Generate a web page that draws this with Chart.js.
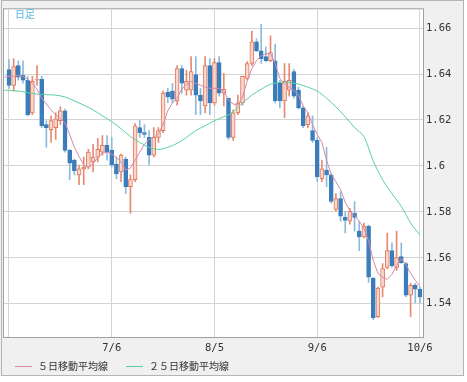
<!DOCTYPE html>
<html>
<head>
<meta charset="utf-8">
<script src="https://cdn.jsdelivr.net/npm/chart.js@4.4.0/dist/chart.umd.min.js"></script>
<style>
  html, body { margin: 0; padding: 0; background: #fff; }
</style>
</head>
<body>
<canvas id="myChart" width="467" height="382"></canvas>
<script>
// 営業日（6/3 は移動平均線の始点だけ、ローソク足なし）
const dates = [];
for (let d = new Date(2011, 5, 3); d <= new Date(2011, 9, 6); d.setDate(d.getDate() + 1)) {
    const wd = d.getDay();
    if (wd !== 0 && wd !== 6) dates.push((d.getMonth() + 1) + '/' + d.getDate());
}

const openV = [null,
    1.6420, 1.6351, 1.6437, 1.6394, 1.6373, 1.6231, 1.6373, 1.6377, 1.6180, 1.6158,
    1.6167, 1.6197, 1.6240, 1.6068, 1.6025, 1.5961, 1.5987, 1.5995, 1.6017, 1.6038,
    1.6060, 1.6090, 1.6068, 1.6008, 1.5974, 1.6030, 1.5910, 1.5940, 1.6167, 1.6145,
    1.6124, 1.6047, 1.6124, 1.6154, 1.6321, 1.6326, 1.6283, 1.6424, 1.6330, 1.6330,
    1.6398, 1.6308, 1.6261, 1.6437, 1.6274, 1.6450, 1.6317, 1.6295, 1.6124, 1.6231,
    1.6274, 1.6381, 1.6446, 1.6540, 1.6501, 1.6476, 1.6458, 1.6458, 1.6360, 1.6283,
    1.6330, 1.6411, 1.6330, 1.6253, 1.6180, 1.6154, 1.6111, 1.5944, 1.5982, 1.5961,
    1.5811, 1.5858, 1.5776, 1.5759, 1.5794, 1.5716, 1.5691, 1.5738, 1.5510, 1.5343,
    1.5472, 1.5558, 1.5631, 1.5558, 1.5605, 1.5575, 1.5437, 1.5480, 1.5463];
const highV = [null,
    1.6463, 1.6467, 1.6458, 1.6458, 1.6390, 1.6390, 1.6437, 1.6390, 1.6197, 1.6218,
    1.6231, 1.6257, 1.6248, 1.6072, 1.6030, 1.6004, 1.6038, 1.6072, 1.6094, 1.6120,
    1.6132, 1.6132, 1.6124, 1.6038, 1.6051, 1.6038, 1.5961, 1.6184, 1.6197, 1.6180,
    1.6154, 1.6167, 1.6167, 1.6326, 1.6338, 1.6360, 1.6437, 1.6437, 1.6416, 1.6476,
    1.6476, 1.6338, 1.6476, 1.6467, 1.6467, 1.6476, 1.6403, 1.6295, 1.6244, 1.6308,
    1.6390, 1.6454, 1.6587, 1.6553, 1.6617, 1.6519, 1.6566, 1.6531, 1.6373, 1.6446,
    1.6446, 1.6420, 1.6343, 1.6261, 1.6231, 1.6218, 1.6124, 1.6025, 1.6081, 1.5965,
    1.5879, 1.5888, 1.5802, 1.5815, 1.5845, 1.5759, 1.5751, 1.5742, 1.5515, 1.5472,
    1.5575, 1.5708, 1.5665, 1.5716, 1.5665, 1.5579, 1.5489, 1.5489, 1.5472];
const lowV = [null,
    1.6338, 1.6326, 1.6373, 1.6360, 1.6218, 1.6223, 1.6351, 1.6167, 1.6081, 1.6102,
    1.6115, 1.6180, 1.6060, 1.5940, 1.5961, 1.5918, 1.5918, 1.5987, 1.5974, 1.6017,
    1.6047, 1.6025, 1.5995, 1.5944, 1.5931, 1.5879, 1.5794, 1.5931, 1.6124, 1.6124,
    1.6004, 1.6038, 1.6102, 1.6145, 1.6274, 1.6274, 1.6265, 1.6317, 1.6308, 1.6308,
    1.6223, 1.6223, 1.6231, 1.6223, 1.6265, 1.6304, 1.6261, 1.6115, 1.6111, 1.6223,
    1.6265, 1.6373, 1.6437, 1.6497, 1.6446, 1.6454, 1.6454, 1.6274, 1.6253, 1.6210,
    1.6304, 1.6295, 1.6248, 1.6167, 1.6167, 1.6102, 1.5931, 1.5931, 1.5910, 1.5837,
    1.5802, 1.5759, 1.5708, 1.5746, 1.5716, 1.5631, 1.5686, 1.5493, 1.5330, 1.5339,
    1.5429, 1.5553, 1.5558, 1.5545, 1.5575, 1.5429, 1.5343, 1.5403, 1.5403];
const closeV = [null,
    1.6351, 1.6433, 1.6386, 1.6373, 1.6223, 1.6368, 1.6377, 1.6175, 1.6167, 1.6197,
    1.6205, 1.6240, 1.6068, 1.6012, 1.5978, 1.5987, 1.5995, 1.6060, 1.6038, 1.6072,
    1.6090, 1.6060, 1.6004, 1.5965, 1.6047, 1.5910, 1.5940, 1.6175, 1.6145, 1.6137,
    1.6047, 1.6124, 1.6154, 1.6317, 1.6300, 1.6291, 1.6424, 1.6360, 1.6368, 1.6411,
    1.6308, 1.6283, 1.6437, 1.6274, 1.6450, 1.6317, 1.6334, 1.6124, 1.6231, 1.6274,
    1.6390, 1.6446, 1.6540, 1.6501, 1.6467, 1.6458, 1.6493, 1.6283, 1.6283, 1.6368,
    1.6373, 1.6304, 1.6253, 1.6175, 1.6218, 1.6111, 1.5953, 1.5987, 1.5961, 1.5845,
    1.5858, 1.5781, 1.5763, 1.5802, 1.5776, 1.5691, 1.5738, 1.5515, 1.5339, 1.5468,
    1.5553, 1.5631, 1.5566, 1.5601, 1.5579, 1.5437, 1.5480, 1.5463, 1.5429];

// ５日移動平均線
const ma5 = [1.6386,
    1.6390, 1.6390, 1.6394, 1.6390, 1.6377, 1.6360, 1.6334, 1.6295, 1.6270, 1.6244,
    1.6223, 1.6205, 1.6188, 1.6137, 1.6081, 1.6042, 1.6004, 1.5995, 1.6008, 1.6038,
    1.6055, 1.6060, 1.6051, 1.6038, 1.6017, 1.5982, 1.5991, 1.6025, 1.6060, 1.6094,
    1.6115, 1.6124, 1.6141, 1.6180, 1.6240, 1.6274, 1.6295, 1.6334, 1.6356, 1.6368,
    1.6360, 1.6351, 1.6343, 1.6338, 1.6338, 1.6338, 1.6326, 1.6287, 1.6270, 1.6265,
    1.6300, 1.6368, 1.6424, 1.6458, 1.6480, 1.6489, 1.6489, 1.6446, 1.6381, 1.6356,
    1.6343, 1.6330, 1.6308, 1.6261, 1.6231, 1.6180, 1.6137, 1.6102, 1.6025, 1.5965,
    1.5931, 1.5897, 1.5841, 1.5806, 1.5785, 1.5759, 1.5729, 1.5673, 1.5588, 1.5532,
    1.5515, 1.5506, 1.5528, 1.5566, 1.5596, 1.5570, 1.5532, 1.5502, 1.5476];

// ２５日移動平均線（読み取れた点のみ）
const ma25 = [1.6330,
    null, null, 1.6326, null, null, null, 1.6313, null, null, null,
    1.6308, null, 1.6300, null, 1.6283, null, 1.6265, null, 1.6244, null,
    1.6218, null, 1.6193, null, 1.6162, null, 1.6128, null, 1.6102, null,
    1.6081, null, 1.6072, null, 1.6081, null, 1.6098, null, 1.6124, null,
    1.6154, null, 1.6175, null, 1.6197, null, 1.6214, null, 1.6235, null,
    1.6274, null, 1.6308, null, 1.6334, null, 1.6356, null, 1.6364, null,
    1.6364, null, 1.6356, null, 1.6343, null, 1.6326, null, 1.6295, null,
    1.6257, null, 1.6214, null, 1.6167, null, 1.6128, null, 1.6021, null,
    1.5940, null, 1.5879, null, 1.5824, null, 1.5751, null, 1.5699];

const xTickLabels = ['6/6', '7/6', '8/5', '9/6', '10/6'];
const yTicks = [1.54, 1.56, 1.58, 1.6, 1.62, 1.64, 1.66];

const upLine = '#e2765c', upFill = '#f8d8cd', upWick = '#e88a72';
const downFill = '#3b7dba', downWick = '#8dbbe0';
const ma5Color = '#d58aab', ma25Color = '#5ccf9c';

const candleIdx = dates.map((d, i) => i).filter(i => openV[i] != null);
const isUp = i => closeV[i] >= openV[i];

const framePlugin = {
    id: 'frame',
    beforeDraw(chart) {
        const ctx = chart.ctx, a = chart.chartArea;
        ctx.save();
        ctx.fillStyle = '#ffffff';
        ctx.fillRect(0, 0, chart.width, chart.height);
        ctx.fillStyle = '#f0f0f0';
        ctx.fillRect(0, 0, 464, 376);
        ctx.strokeStyle = '#b4b4b4';
        ctx.lineWidth = 1;
        ctx.strokeRect(1.5, 0.5, 462, 375);
        ctx.fillStyle = '#ffffff';
        ctx.fillRect(a.left, a.top, a.right - a.left, a.bottom - a.top);
        ctx.restore();
    },
    afterDraw(chart) {
        const ctx = chart.ctx, a = chart.chartArea;
        ctx.save();
        ctx.strokeStyle = '#a0a0a0';
        ctx.lineWidth = 1;
        ctx.strokeRect(a.left - 0.5, a.top - 0.5, a.right - a.left + 1, a.bottom - a.top + 1);

        ctx.font = '10px "Noto Sans CJK JP"';
        ctx.textBaseline = 'middle';
        ctx.fillStyle = '#55b6ea';
        ctx.fillText('日足', 15, 14);

        // 凡例
        const items = [
            { text: '５日移動平均線', color: ma5Color, x: 15 },
            { text: '２５日移動平均線', color: ma25Color, x: 126 }
        ];
        items.forEach(it => {
            ctx.strokeStyle = it.color;
            ctx.beginPath();
            ctx.moveTo(it.x, 366.5);
            ctx.lineTo(it.x + 17, 366.5);
            ctx.stroke();
            ctx.fillStyle = '#333';
            ctx.fillText(it.text, it.x + 23, 366);
        });
        ctx.restore();
    }
};

const axisFont = { family: '"DejaVu Sans Mono", monospace', size: 10.5 };

const config = {
    type: 'bar',
    data: {
        datasets: [
            {
                type: 'line',
                label: '５日移動平均線',
                data: ma5.map((v, i) => ({ x: i, y: v })),
                borderColor: ma5Color,
                borderWidth: 1,
                pointRadius: 0,
                tension: 0,
                order: 0
            },
            {
                type: 'line',
                label: '２５日移動平均線',
                data: ma25.map((v, i) => ({ x: i, y: v })),
                borderColor: ma25Color,
                borderWidth: 1,
                pointRadius: 0,
                tension: 0.3,
                spanGaps: true,
                order: 0
            },
            {
                label: 'body',
                data: candleIdx.map(i => ({ x: i, y: [openV[i], closeV[i]] })),
                backgroundColor: candleIdx.map(i => isUp(i) ? upFill : downFill),
                borderColor: candleIdx.map(i => isUp(i) ? upLine : downFill),
                borderWidth: 1,
                borderSkipped: false,
                barThickness: 4,
                grouped: false,
                order: 1
            },
            {
                label: 'wick',
                data: candleIdx.map(i => ({ x: i, y: [lowV[i], highV[i]] })),
                backgroundColor: candleIdx.map(i => isUp(i) ? upWick : downWick),
                borderWidth: 0,
                barThickness: 1,
                grouped: false,
                order: 2
            }
        ]
    },
    options: {
        responsive: false,
        animation: false,
        events: [],
        layout: { padding: { left: 4, top: 5, right: 0, bottom: 0 } },
        plugins: {
            legend: { display: false },
            tooltip: { enabled: false }
        },
        scales: {
            x: {
                type: 'linear',
                position: 'bottom',
                offset: false,
                min: -0.07,
                max: 89.65,
                afterBuildTicks: s => { s.ticks = xTickLabels.map(t => ({ value: dates.indexOf(t) })); },
                afterFit: s => { s.height = 45; },
                ticks: {
                    callback: (v, idx) => idx === 0 ? '' : xTickLabels[idx],
                    font: axisFont,
                    color: '#333',
                    padding: 5,
                    maxRotation: 0,
                    autoSkip: false
                },
                grid: { color: '#d4d4d4', drawTicks: false, offset: false },
                border: { display: false }
            },
            y: {
                position: 'right',
                min: 1.5255,
                max: 1.6682,
                afterBuildTicks: s => { s.ticks = yTicks.map(v => ({ value: v })); },
                afterFit: s => { s.width = 44; },
                ticks: {
                    callback: v => String(v),
                    font: axisFont,
                    color: '#333',
                    padding: 3
                },
                grid: { color: '#d4d4d4', drawTicks: false },
                border: { display: false }
            }
        }
    },
    plugins: [framePlugin]
};

const ctx = document.getElementById('myChart').getContext('2d');
window.myChart = new Chart(ctx, config);
</script>
</body>
</html>
